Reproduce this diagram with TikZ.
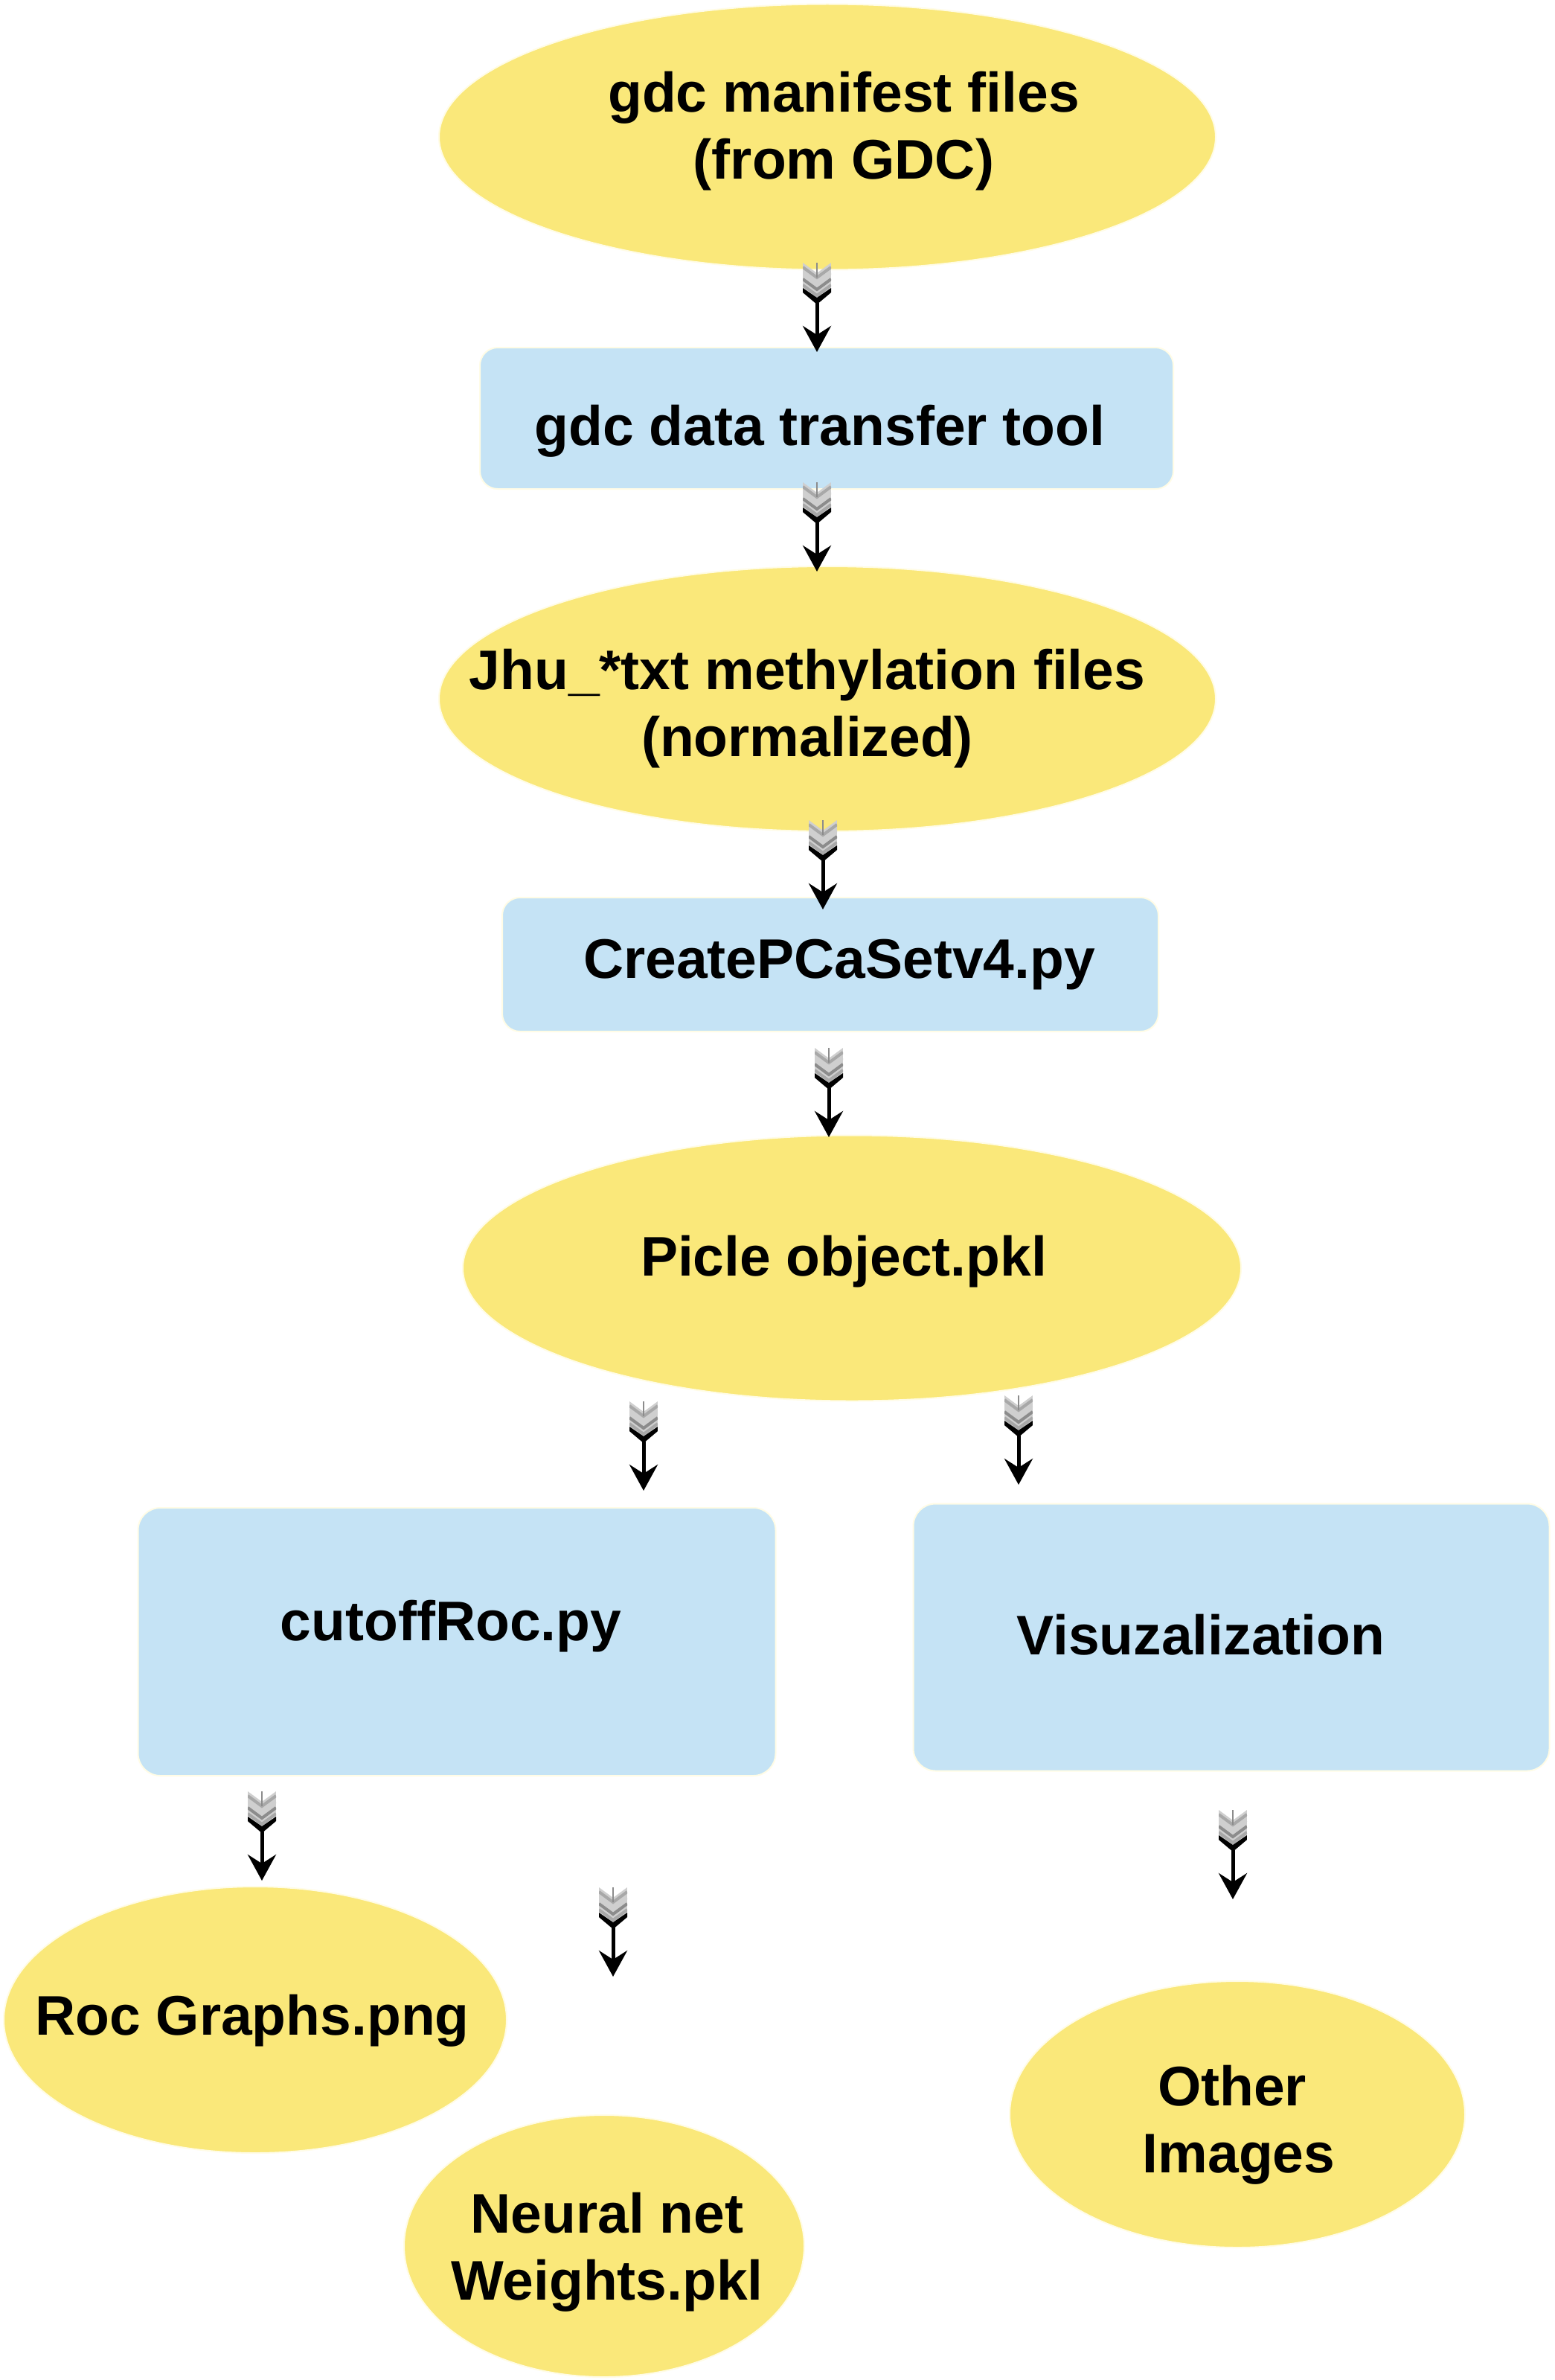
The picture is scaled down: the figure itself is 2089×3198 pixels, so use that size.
\documentclass[tikz,border=0pt]{standalone}
\usepackage{fontspec}
\setmainfont{Liberation Sans}
\usetikzlibrary{shapes.geometric,arrows.meta}
\definecolor{ylw}{HTML}{FAE87A}
\definecolor{blu}{HTML}{C5E3F5}
\definecolor{rim}{HTML}{FFFCE6}
\definecolor{g1}{HTML}{CFCFCF}
\definecolor{g2}{HTML}{A8A8A8}
\definecolor{g3}{HTML}{8C8C8C}
\tikzset{
  oval/.style={ellipse, fill=ylw, draw=rim, line width=2pt, inner sep=0pt},
  boxy/.style={rectangle, rounded corners=24pt, fill=blu, draw=rim, line width=2pt, inner sep=0pt},
  lbl/.style={font=\fontsize{75}{90}\selectfont\bfseries, align=center, inner sep=0pt},
  shaft/.style={line width=5pt, -{Stealth[length=35pt,width=38pt,inset=12pt]}},
  fletching/.pic={
    \begin{scope}
      \clip (-19,0) -- (0,14) -- (19,0) -- (19,40) -- (0,56) -- (-19,40) -- cycle;
      \fill[g1] (-19,0) rectangle (19,60);
      \foreach \yy/\cc in {6/g2,14/g1,22/g3,30/g2} {
        \draw[\cc, line width=4pt] (-19,\yy) -- (0,\yy+14) -- (19,\yy);
      }
      \fill[black] (-19,34) -- (0,47) -- (19,34) -- (19,42) -- (0,58) -- (-19,42) -- cycle;
    \end{scope}
    \draw[g3, line width=1.2pt] (0,0) -- (0,20);
  }
}
\begin{document}
\begin{tikzpicture}[x=1pt,y=-1pt]
\useasboundingbox[fill=white] (0,0) rectangle (2089,3198);
% shapes
\node[oval, minimum width=1044pt, minimum height=357pt] (e1) at (1112,184) {};
\node[boxy, minimum width=932pt, minimum height=190pt] (b1) at (1111,562) {};
\node[oval, minimum width=1044pt, minimum height=356pt] (e2) at (1112,939) {};
\node[boxy, minimum width=882pt, minimum height=180pt] (b2) at (1116,1296) {};
\node[oval, minimum width=1046pt, minimum height=357pt] (e3) at (1145,1704) {};
\node[boxy, rounded corners=30pt, minimum width=857pt, minimum height=360pt] (b3) at (614,2206) {};
\node[boxy, rounded corners=30pt, minimum width=855pt, minimum height=359pt] (b4) at (1655,2200) {};
\node[oval, minimum width=676pt, minimum height=358pt] (e4) at (343,2714) {};
\node[oval, minimum width=538pt, minimum height=352pt] (e5) at (812,3018) {};
\node[oval, minimum width=612pt, minimum height=358pt] (e6) at (1663,2841) {};
% texts
\node[lbl] (t1) at (1134,176) {gdc manifest files\\(from GDC)};
\node[lbl] (t2) at (1102,579) {gdc data transfer tool};
\node[lbl] (t3) at (1085,952) {Jhu\_*txt methylation files\\(normalized)};
\node[lbl] (t4) at (1128,1296) {CreatePCaSetv4.py};
\node[lbl] (t5) at (1134,1695) {Picle object.pkl};
\node[lbl] (t6) at (606,2185) {cutoffRoc.py};
\node[lbl] (t7) at (1614,2197) {Visuzalization};
\node[lbl] (t8) at (339,2715) {Roc Graphs.png};
\node[lbl] (t9) at (816,3026) {Neural net\\Weights.pkl};
\node[lbl] (t10) at (1656,2855) {Other\\\hspace*{18pt}Images};
% arrows
\foreach \n/\xx/\ya/\yb in {1/1098/353/473, 2/1098/648/768, 3/1106/1102/1222, 4/1114/1408/1528,
  5/865/1883/2003, 6/1369/1875/1995, 7/352/2407/2527, 8/824/2536/2656, 9/1657/2432/2552} {
  \coordinate (a\n s) at (\xx,\ya);
  \coordinate (a\n e) at (\xx,\yb);
  \pic at (a\n s) {fletching};
  \draw[shaft] ([yshift=-54pt]a\n s) -- (a\n e);
}
\end{tikzpicture}
\end{document}
